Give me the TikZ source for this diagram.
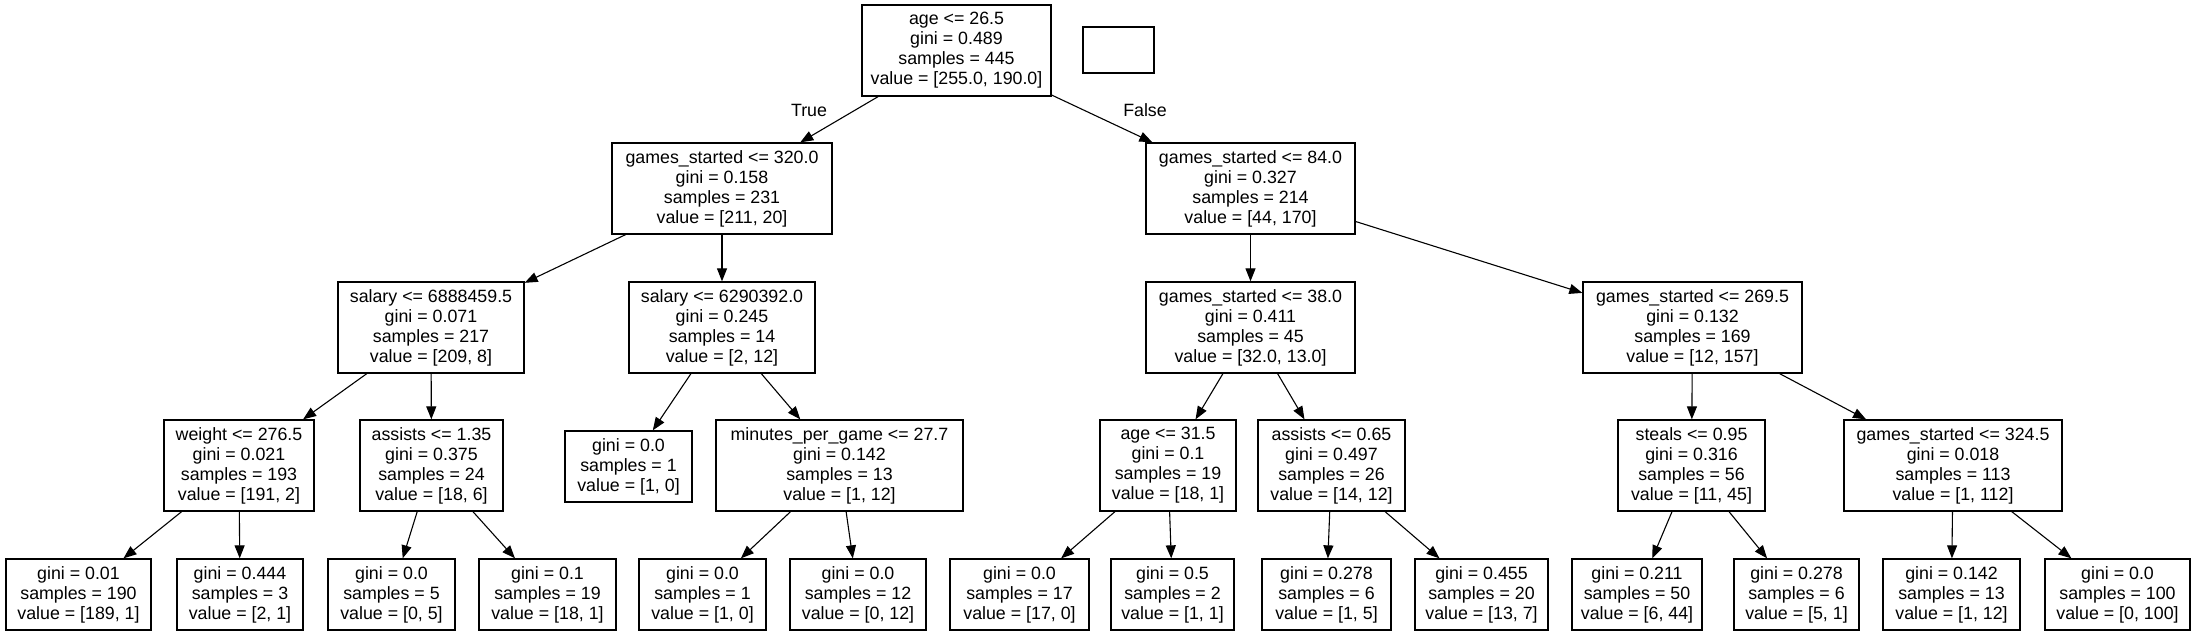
\documentclass[tikz,border=0pt]{standalone}
\usepackage{fontspec}
\setmainfont{Liberation Sans}
\usetikzlibrary{arrows.meta}
\newcommand\treefont{\fontsize{17.8}{20}\selectfont}
\tikzset{
  tbox/.style={draw, line width=1.3pt, rectangle, inner xsep=1pt, inner ysep=0pt, align=center, font=\treefont, minimum height=91pt},
  lbox/.style={tbox, minimum height=71pt},
  edge/.style={-{Triangle[length=13pt,width=10pt]}, line width=1.1pt},
  elabel/.style={font=\treefont, inner sep=0pt}
}
\begin{document}
\begin{tikzpicture}[x=1pt,y=-1pt]
\useasboundingbox (0,0) rectangle (2197,636);
% root and legend box
\node[tbox, minimum width=189pt] (root) at (956.5,50.5) {age <= 26.5\\gini = 0.489\\samples = 445\\value = [255.0, 190.0]};
\node[draw, line width=1.3pt, minimum width=71pt, minimum height=46pt, inner sep=0pt] (blank) at (1118.5,50) {};
% level 1
\node[tbox, minimum width=220pt] (a) at (722,188.5) {games\_started <= 320.0\\gini = 0.158\\samples = 231\\value = [211, 20]};
\node[tbox, minimum width=209pt] (b) at (1250.5,188.5) {games\_started <= 84.0\\gini = 0.327\\samples = 214\\value = [44, 170]};
% level 2
\node[tbox, minimum width=186pt] (aa) at (431,327.5) {salary <= 6888459.5\\gini = 0.071\\samples = 217\\value = [209, 8]};
\node[tbox, minimum width=186pt] (ab) at (722,327.5) {salary <= 6290392.0\\gini = 0.245\\samples = 14\\value = [2, 12]};
\node[tbox, minimum width=209pt] (ba) at (1250.5,327.5) {games\_started <= 38.0\\gini = 0.411\\samples = 45\\value = [32.0, 13.0]};
\node[tbox, minimum width=219pt] (bb) at (1692.5,327.5) {games\_started <= 269.5\\gini = 0.132\\samples = 169\\value = [12, 157]};
% level 3
\node[tbox, minimum width=150pt] (aaa) at (239,465.5) {weight <= 276.5\\gini = 0.021\\samples = 193\\value = [191, 2]};
\node[tbox, minimum width=143pt] (aab) at (431.5,465.5) {assists <= 1.35\\gini = 0.375\\samples = 24\\value = [18, 6]};
\node[lbox, minimum width=127pt] (aba) at (628.5,466.5) {gini = 0.0\\samples = 1\\value = [1, 0]};
\node[tbox, minimum width=247pt] (abb) at (839.5,465.5) {minutes\_per\_game <= 27.7\\gini = 0.142\\samples = 13\\value = [1, 12]};
\node[tbox, minimum width=136pt] (baa) at (1168,465.5) {age <= 31.5\\gini = 0.1\\samples = 19\\value = [18, 1]};
\node[tbox, minimum width=147pt] (bab) at (1331.5,465.5) {assists <= 0.65\\gini = 0.497\\samples = 26\\value = [14, 12]};
\node[tbox, minimum width=147pt] (bba) at (1691.5,465.5) {steals <= 0.95\\gini = 0.316\\samples = 56\\value = [11, 45]};
\node[tbox, minimum width=218pt] (bbb) at (1953,465.5) {games\_started <= 324.5\\gini = 0.018\\samples = 113\\value = [1, 112]};
% level 4 leaves
\node[lbox, minimum width=145pt] (l1) at (78.5,594.5) {gini = 0.01\\samples = 190\\value = [189, 1]};
\node[lbox, minimum width=126pt] (l2) at (240,594.5) {gini = 0.444\\samples = 3\\value = [2, 1]};
\node[lbox, minimum width=127pt] (l3) at (391.5,594.5) {gini = 0.0\\samples = 5\\value = [0, 5]};
\node[lbox, minimum width=137pt] (l4) at (547.5,594.5) {gini = 0.1\\samples = 19\\value = [18, 1]};
\node[lbox, minimum width=127pt] (l5) at (702.5,594.5) {gini = 0.0\\samples = 1\\value = [1, 0]};
\node[lbox, minimum width=136pt] (l6) at (858,594.5) {gini = 0.0\\samples = 12\\value = [0, 12]};
\node[lbox, minimum width=139pt] (l7) at (1019.5,594.5) {gini = 0.0\\samples = 17\\value = [17, 0]};
\node[lbox, minimum width=123pt] (l8) at (1172.5,594.5) {gini = 0.5\\samples = 2\\value = [1, 1]};
\node[lbox, minimum width=129pt] (l9) at (1326.5,594.5) {gini = 0.278\\samples = 6\\value = [1, 5]};
\node[lbox, minimum width=133pt] (l10) at (1481.5,594.5) {gini = 0.455\\samples = 20\\value = [13, 7]};
\node[lbox, minimum width=130pt] (l11) at (1637,594.5) {gini = 0.211\\samples = 50\\value = [6, 44]};
\node[lbox, minimum width=125pt] (l12) at (1796.5,594.5) {gini = 0.278\\samples = 6\\value = [5, 1]};
\node[lbox, minimum width=137pt] (l13) at (1951.5,594.5) {gini = 0.142\\samples = 13\\value = [1, 12]};
\node[lbox, minimum width=145pt] (l14) at (2117.5,594.5) {gini = 0.0\\samples = 100\\value = [0, 100]};
% edge labels
\node[elabel] (tlab) at (809,110) {True};
\node[elabel] (flab) at (1145,110) {False};
% edges
\draw[edge] (root) -- (a);
\draw[edge] (root) -- (b);
\draw[edge] (a) -- (aa);
\draw[edge] (a) -- (ab);
\draw[edge] (b) -- (ba);
\draw[edge] (b) -- (bb);
\draw[edge] (aa) -- (aaa);
\draw[edge] (aa) -- (aab);
\draw[edge] (ab) -- (aba);
\draw[edge] (ab) -- (abb);
\draw[edge] (ba) -- (baa);
\draw[edge] (ba) -- (bab);
\draw[edge] (bb) -- (bba);
\draw[edge] (bb) -- (bbb);
\draw[edge] (aaa) -- (l1);
\draw[edge] (aaa) -- (l2);
\draw[edge] (aab) -- (l3);
\draw[edge] (aab) -- (l4);
\draw[edge] (abb) -- (l5);
\draw[edge] (abb) -- (l6);
\draw[edge] (baa) -- (l7);
\draw[edge] (baa) -- (l8);
\draw[edge] (bab) -- (l9);
\draw[edge] (bab) -- (l10);
\draw[edge] (bba) -- (l11);
\draw[edge] (bba) -- (l12);
\draw[edge] (bbb) -- (l13);
\draw[edge] (bbb) -- (l14);
\end{tikzpicture}
\end{document}
